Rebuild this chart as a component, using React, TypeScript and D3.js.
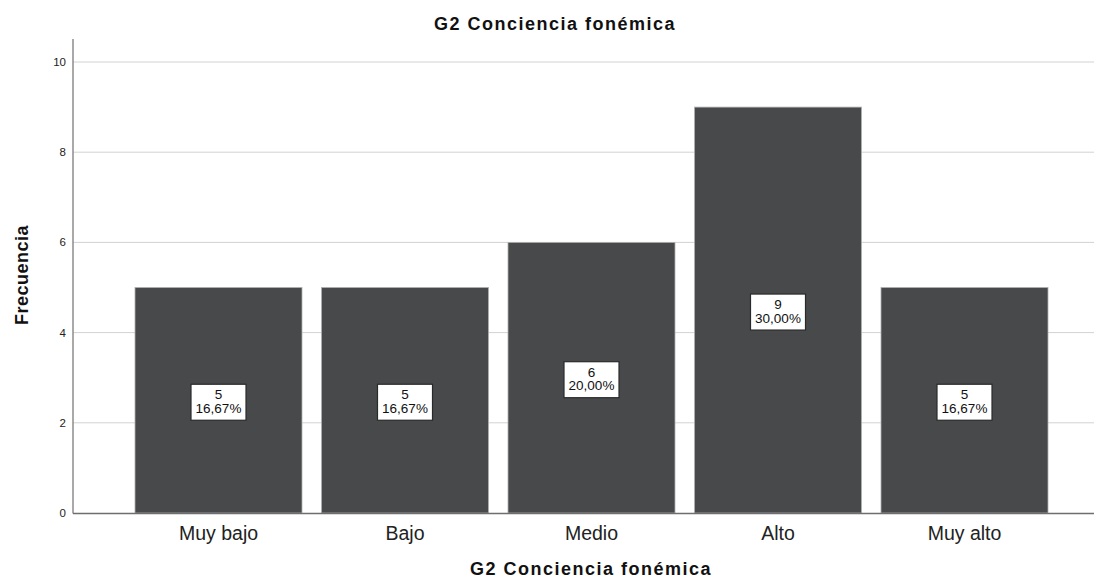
import React from "react";
import * as d3 from "d3";

const categories = ["Muy bajo", "Bajo", "Medio", "Alto", "Muy alto"];
const counts = [5, 5, 6, 9, 5];
const percents = ["16,67%", "16,67%", "20,00%", "30,00%", "16,67%"];
const yTicks = [0, 2, 4, 6, 8, 10];
const title = "G2 Conciencia fonémica";
const xTitle = "G2 Conciencia fonémica";
const yTitle = "Frecuencia";

const W = 1096;
const H = 580;
const axisLeft = 73;
const axisRight = 1094;
const axisTop = 39;

export default function App() {
  const y = d3.scaleLinear().domain([0, 10]).range([513, 62]);
  const x = d3
    .scaleBand<string>()
    .domain(categories)
    .range([125.25, 1057.75])
    .paddingInner(0.1046)
    .paddingOuter(0.0523);
  const font = "Liberation Sans, Arial, sans-serif";
  return (
    <svg
      width={W}
      height={H}
      style={{ position: "absolute", left: 0, top: 0, background: "#fff" }}
      fontFamily={font}
    >
      <rect x={0} y={0} width={W} height={H} fill="#fff" />
      {yTicks.map((t) => (
        <g key={t}>
          {t > 0 && (
            <line x1={axisLeft} x2={axisRight} y1={y(t)} y2={y(t)} stroke="#d2d2d2" strokeWidth={1} />
          )}
          <text x={axisLeft - 7} y={y(t)} dy="0.35em" textAnchor="end" fontSize={11.5} fill="#222">
            {t}
          </text>
        </g>
      ))}
      {categories.map((c, i) => {
        const x0 = x(c)!;
        const bw = x.bandwidth();
        const yTop = y(counts[i]);
        const cy = (yTop + y(0)) / 2 + 2;
        const cx = x0 + bw / 2;
        return (
          <g key={c}>
            <rect x={x0} y={yTop} width={bw} height={y(0) - yTop} fill="#48494b" stroke="#b0b0b0" strokeWidth={0.8} />
            <rect x={cx - 27.5} y={cy - 18} width={55} height={36} fill="#fff" stroke="#2a2a2a" strokeWidth={1.2} />
            <text x={cx} y={cy - 3} textAnchor="middle" fontSize={13.5} fill="#111">
              {counts[i]}
            </text>
            <text x={cx} y={cy + 10.5} textAnchor="middle" fontSize={13.5} fill="#111">
              {percents[i]}
            </text>
            <text x={cx} y={540} textAnchor="middle" fontSize={19.5} fill="#222">
              {c}
            </text>
          </g>
        );
      })}
      <line x1={axisLeft} x2={axisLeft} y1={axisTop} y2={513.5} stroke="#8c8c8c" strokeWidth={1.5} />
      <line x1={axisLeft} x2={axisRight} y1={513.5} y2={513.5} stroke="#6e6e6e" strokeWidth={1.5} />
      <text x={555} y={29.5} textAnchor="middle" fontSize={18} fontWeight="bold" letterSpacing={1.5} fill="#111">
        {title}
      </text>
      <text x={591} y={575} textAnchor="middle" fontSize={18} fontWeight="bold" letterSpacing={1.5} fill="#111">
        {xTitle}
      </text>
      <text
        transform="translate(28,275) rotate(-90)"
        textAnchor="middle"
        fontSize={18}
        fontWeight="bold"
        letterSpacing={0.5}
        fill="#111"
      >
        {yTitle}
      </text>
    </svg>
  );
}
